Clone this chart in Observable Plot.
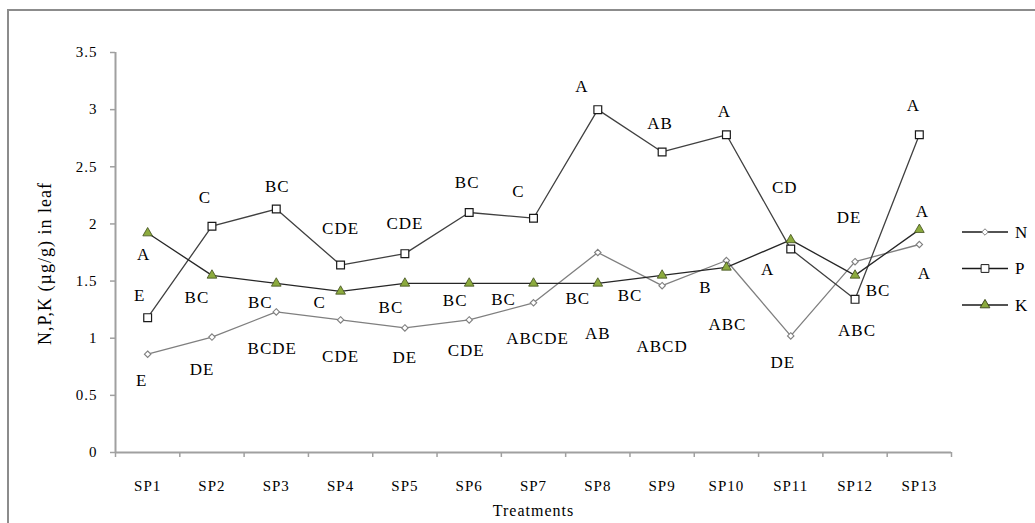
<!DOCTYPE html>
<html>
<head>
<meta charset="utf-8">
<script src="https://cdn.jsdelivr.net/npm/d3@7"></script>
<script src="https://cdn.jsdelivr.net/npm/@observablehq/plot@0.6"></script>
<style>
  html, body { margin: 0; padding: 0; background: #fff; }
  #wrap { position: relative; width: 1035px; height: 523px; overflow: hidden; font-family: "Liberation Serif", "Times New Roman", serif; }
  #border { position: absolute; left: 7px; top: 9px; width: 1100px; height: 700px; border-top: 2px solid #8c8c8c; border-left: 2px solid #8c8c8c; }
  #chart { position: absolute; left: 0; top: 0; }
  #legend { position: absolute; left: 955px; top: 214px; }
</style>
</head>
<body>
<div id="wrap">
  <div id="border"></div>
  <div id="chart"></div>
  <div id="legend"></div>
</div>
<script>
// ---- data ----
const categories = ["SP1","SP2","SP3","SP4","SP5","SP6","SP7","SP8","SP9","SP10","SP11","SP12","SP13"];
const seriesNames = ["N", "P", "K"];
const nValues = [0.86, 1.01, 1.23, 1.16, 1.09, 1.16, 1.31, 1.75, 1.46, 1.68, 1.02, 1.67, 1.82];
const pValues = [1.18, 1.98, 2.13, 1.64, 1.74, 2.10, 2.05, 3.00, 2.63, 2.78, 1.78, 1.34, 2.78];
const kValues = [1.92, 1.55, 1.48, 1.41, 1.48, 1.48, 1.48, 1.48, 1.55, 1.62, 1.86, 1.55, 1.95];
const yTicks = [0, 0.5, 1, 1.5, 2, 2.5, 3, 3.5];

// significance letters
const nLetters = ["E","DE","BCDE","CDE","DE","CDE","ABCDE","AB","ABCD","ABC","DE","ABC","A"];
const pLetters = ["E","C","BC","CDE","CDE","BC","C","A","AB","A","CD","DE","A"];
const kLetters = ["A","BC","BC","C","BC","BC","BC","BC","BC","B","A","BC","A"];
// where each letter sits (value units on the y axis)
const nLetterAt = [0.63, 0.73, 0.91, 0.84, 0.83, 0.89, 1.00, 1.04, 0.93, 1.12, 0.79, 1.07, 1.57];
const pLetterAt = [1.37, 2.23, 2.33, 1.96, 2.00, 2.36, 2.28, 3.20, 2.88, 2.98, 2.32, 2.06, 3.04];
const kLetterAt = [1.73, 1.36, 1.31, 1.31, 1.27, 1.33, 1.34, 1.35, 1.37, 1.44, 1.60, 1.42, 2.11];
// horizontal nudges of the letters (px)
const nLetterDx = [-6, -10, -4, 0, 0, -3, 4, 0, 0, 1, -8, 2, 5];
const pLetterDx = [-8, -7, 1, 0, 0, -2, -15, -16, -2, -2, -6, -6, -6];
const kLetterDx = [-4, -15, -16, -21, -14, -14, -30, -20, -32, -21, -23, 23, 3];

// ---- tables ----
const idx = categories.map((_, i) => i);
const pos = i => i + 0.5;
const rows = (vals) => idx.map(i => ({x: pos(i), y: vals[i]}));
const nRows = rows(nValues), pRows = rows(pValues), kRows = rows(kValues);
const labelRows = (letters, at, dx) => idx.map(i => ({x: pos(i), y: at[i], text: letters[i], dx: dx[i]}));
const allLabels = [
  ...labelRows(nLetters, nLetterAt, nLetterDx),
  ...labelRows(pLetters, pLetterAt, pLetterDx),
  ...labelRows(kLetters, kLetterAt, kLetterDx)
];

const font = "'Liberation Serif', 'Times New Roman', serif";
const axisColor = "#a0a0a0";
const nColor = "#7f7f7f", pColor = "#404040", kColor = "#262626";
const kFill = "#8cab3e", kStroke = "#3f4d1c";

const labelMarks = allLabels.map(d => Plot.text([d], {
  x: "x", y: "y", text: "text", dx: d.dx,
  fontSize: 17, fill: "#000", style: "letter-spacing:1.3px"
}));

const chart = Plot.plot({
  width: 1035,
  height: 523,
  marginLeft: 115,
  marginRight: 84,
  marginTop: 52,
  marginBottom: 71,
  x: {type: "linear", domain: [0, categories.length]},
  y: {domain: [0, 3.5]},
  style: {fontFamily: font, fontSize: "15px", color: "#000", background: "transparent", letterSpacing: "1px"},
  marks: [
    Plot.axisY({ticks: yTicks, tickSize: 5, tickPadding: 13, stroke: axisColor, strokeWidth: 1.5, tickFormat: d => String(d), fill: "#000", label: null}),
    Plot.axisX({ticks: d3.range(categories.length + 1), tickSize: 5, stroke: axisColor, strokeWidth: 1.5, tickFormat: () => "", label: null}),
    Plot.axisX({ticks: idx.map(pos), tickSize: 0, tickPadding: 28, tickFormat: d => categories[Math.floor(d)], fill: "#000", label: null}),
    Plot.ruleY([0], {stroke: axisColor, strokeWidth: 2}),
    Plot.ruleX([0], {stroke: axisColor, strokeWidth: 2}),
    Plot.line(nRows, {x: "x", y: "y", stroke: nColor, strokeWidth: 1.3}),
    Plot.line(pRows, {x: "x", y: "y", stroke: pColor, strokeWidth: 1.3}),
    Plot.line(kRows, {x: "x", y: "y", stroke: kColor, strokeWidth: 1.3}),
    Plot.dot(nRows, {x: "x", y: "y", symbol: "diamond2", r: 2.9, fill: "#fff", stroke: nColor, strokeWidth: 1.1}),
    Plot.dot(pRows, {x: "x", y: "y", symbol: "square", r: 4.4, fill: "#fff", stroke: "#1a1a1a", strokeWidth: 1.2}),
    Plot.dot(kRows, {x: "x", y: "y", symbol: "triangle", r: 3.6, fill: kFill, stroke: kStroke, strokeWidth: 0.8}),
    ...labelMarks,
    Plot.text(["Treatments"], {frameAnchor: "bottom", textAnchor: "middle", dy: 63, fontSize: 16, fill: "#000", style: "letter-spacing:1.8px"}),
    Plot.text(["N,P,K (µg/g) in leaf"], {frameAnchor: "left", textAnchor: "middle", dx: -70, dy: 11, rotate: -90, fontSize: 18, fill: "#000", style: "letter-spacing:2.6px"})
  ]
});
document.getElementById("chart").appendChild(chart);

// ---- legend ----
const lg = d3.select("#legend").append("svg").attr("width", 80).attr("height", 110)
  .style("font-family", font).style("overflow", "visible");
const legendStyles = [
  {sym: d3.symbolDiamond2, size: Math.PI * 2.9 * 2.9, fill: "#fff", mstroke: nColor},
  {sym: d3.symbolSquare, size: Math.PI * 4.4 * 4.4, fill: "#fff", mstroke: "#1a1a1a"},
  {sym: d3.symbolTriangle, size: Math.PI * 3.6 * 3.6, fill: kFill, mstroke: kStroke}
];
seriesNames.forEach((name, i) => {
  const s = legendStyles[i];
  const g = lg.append("g").attr("transform", `translate(0,${18 + i * 36.5})`);
  g.append("line").attr("x1", 7).attr("x2", 53).attr("y1", 0).attr("y2", 0).attr("stroke", "#1a1a1a").attr("stroke-width", 1.3);
  g.append("path").attr("transform", "translate(30,0)").attr("d", d3.symbol(s.sym, s.size)())
    .attr("fill", s.fill).attr("stroke", s.mstroke).attr("stroke-width", 1);
  g.append("text").attr("x", 60).attr("y", 0).attr("dy", "0.35em").attr("font-size", 17).attr("fill", "#000").text(name);
});
</script>
</body>
</html>
